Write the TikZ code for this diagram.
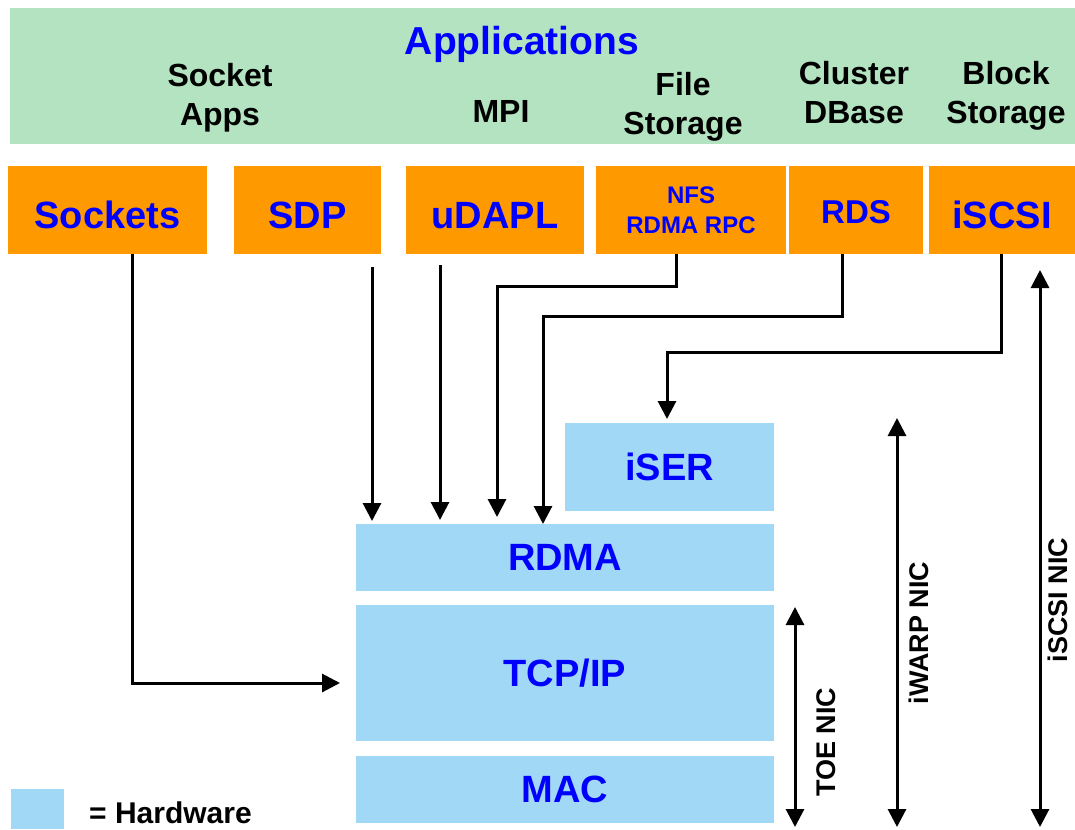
\documentclass[tikz,border=0pt]{standalone}
\usepackage{fontspec}
\setmainfont{Liberation Sans}
\usetikzlibrary{arrows.meta}
\definecolor{appgreen}{RGB}{179,227,192}
\definecolor{orng}{RGB}{255,153,0}
\definecolor{hwblue}{RGB}{160,216,246}
\definecolor{txtblue}{RGB}{0,0,255}
\tikzset{
  obox/.style={fill=orng, draw=none, inner sep=0pt, outer sep=0pt, minimum height=88pt,
    text=txtblue, font=\bfseries\fontsize{38}{40}\selectfont, text height=36pt, text depth=0pt},
  hwbox/.style={fill=hwblue, draw=none, inner sep=0pt, outer sep=0pt, minimum width=418pt,
    text=txtblue, font=\bfseries\fontsize{38}{40}\selectfont},
  applbl/.style={align=center, inner sep=0pt, font=\bfseries\fontsize{32}{39}\selectfont},
  conn/.style={line width=3pt, -{Triangle[length=18pt,width=18pt]}},
  nic/.style={line width=3pt, {Triangle[length=18pt,width=18pt]}-{Triangle[length=18pt,width=18pt]}},
  niclbl/.style={rotate=90, inner sep=0pt, font=\bfseries\fontsize{27}{30}\selectfont}
}
\begin{document}
\begin{tikzpicture}[x=1pt, y=-1pt]
\useasboundingbox (0,0) rectangle (1075,829);
\clip (0,0) rectangle (1075,829);
% Applications bar
\node[fill=appgreen, inner sep=0pt, minimum width=1065pt, minimum height=136pt] (appbar) at (542.5,76) {};
\node[anchor=base, inner sep=0pt, text=txtblue, font=\bfseries\fontsize{39}{40}\selectfont] (applications) at (522,55) {Applications};
\node[applbl, anchor=north] (socketapps) at (220,63) {Socket\\Apps};
\node[applbl, anchor=base] (mpi) at (501,123) {MPI};
\node[applbl, anchor=north] (filestorage) at (683,72) {File\\Storage};
\node[applbl, anchor=north] (clusterdb) at (854,61) {Cluster\\DBase};
\node[applbl, anchor=north] (blockstorage) at (1006,61) {Block\\Storage};
% Orange protocol boxes
\node[obox, minimum width=199pt] (sockets) at (107.5,210) {Sockets};
\node[obox, minimum width=147pt] (sdp) at (307.5,210) {SDP};
\node[obox, minimum width=178pt] (udapl) at (495,210) {uDAPL};
\node[obox, minimum width=190pt, align=center, text height=, text depth=, font=\bfseries\fontsize{24}{30}\selectfont] (nfs) at (691,210) {NFS\\RDMA RPC};
\node[obox, minimum width=134pt, font=\bfseries\fontsize{33}{36}\selectfont, text height=26pt] (rds) at (856,210) {RDS};
\node[obox, minimum width=146pt] (iscsi) at (1002,210) {iSCSI};
% Hardware boxes
\node[hwbox, minimum width=209pt, minimum height=88pt] (iser) at (669.5,467) {iSER};
\node[hwbox, minimum height=67pt] (rdma) at (565,557.5) {RDMA};
\node[hwbox, minimum height=136pt] (tcp) at (565,673) {TCP/IP};
\node[hwbox, minimum height=67pt] (mac) at (565,789.5) {MAC};
% Connectors
\draw[conn] ([xshift=24.5pt]sockets.south) |- ([xshift=-16pt,yshift=-10pt]tcp.west);
\coordinate (sdpout) at ([xshift=64.5pt,yshift=-13pt]sdp.south);
\draw[conn, shorten >=3pt] (sdpout) -- (sdpout |- rdma.north);
\coordinate (udaplout) at ([xshift=-55pt,yshift=-11pt]udapl.south);
\draw[conn, shorten >=4pt] (udaplout) -- (udaplout |- rdma.north);
\coordinate (nfsbend) at (497,286);
\draw[conn, shorten >=7pt] ([xshift=-15pt]nfs.south) |- (nfsbend) -- (nfsbend |- rdma.north);
\coordinate (rdsbend) at (543,316);
\draw[conn] ([xshift=-14pt]rds.south) |- (rdsbend) -- (rdsbend |- rdma.north);
\coordinate (iscsibend) at (667,352);
\draw[conn, shorten >=4pt] ([xshift=-1pt]iscsi.south) |- (iscsibend) -- (iscsibend |- iser.north);
% NIC ranges
\coordinate (toetop) at (795,607);
\coordinate (toebot) at (795,827);
\draw[nic] (toetop) -- (toebot);
\node[niclbl] (toelbl) at (826,742) {TOE NIC};
\coordinate (iwarptop) at (897,418);
\coordinate (iwarpbot) at (897,827);
\draw[nic] (iwarptop) -- (iwarpbot);
\node[niclbl] (iwarplbl) at (919,633) {iWARP NIC};
\coordinate (iscsinictop) at (1040,270);
\coordinate (iscsinicbot) at (1040,827);
\draw[nic] (iscsinictop) -- (iscsinicbot);
\node[niclbl] (iscsiniclbl) at (1058,600) {iSCSI NIC};
% Legend
\node[fill=hwblue, inner sep=0pt, minimum width=53pt, minimum height=40pt] (legend) at (37.5,809) {};
\node[anchor=west, inner sep=0pt, font=\bfseries\fontsize{30}{32}\selectfont] (hwlbl) at (89,813) {= Hardware};
\end{tikzpicture}
\end{document}
